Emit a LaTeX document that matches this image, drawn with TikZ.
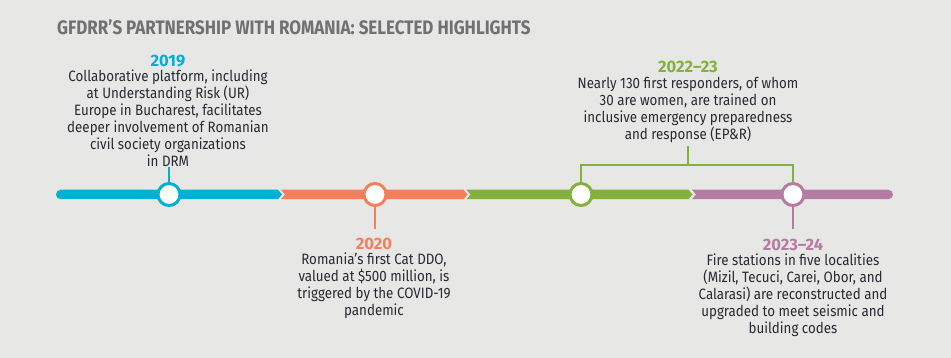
\documentclass[tikz,border=0pt]{standalone}
\usepackage{fontspec}
\setmainfont{Fira Sans}[FakeStretch=0.89]
\newfontfamily\titlefont{Fira Sans}[FakeStretch=0.87]
\newfontfamily\yearfont{Fira Sans}
\definecolor{bg}{HTML}{E7E7E5}
\definecolor{cblue}{HTML}{00B1D5}
\definecolor{corange}{HTML}{F47F5D}
\definecolor{cgreen}{HTML}{84B03D}
\definecolor{cpurple}{HTML}{B57CA3}
\definecolor{ctitle}{HTML}{6F7173}
\definecolor{ctext}{HTML}{2A2934}
\begin{document}
\begin{tikzpicture}[x=1pt,y=-1pt,
  yearlbl/.style={font=\yearfont\fontsize{16.5}{18}\selectfont\bfseries, inner sep=0pt},
  bodytxt/.style={font=\fontsize{15}{17}\selectfont, text=ctext, align=center, inner sep=0pt},
  dot/.style={circle, draw=#1, line width=3pt, fill=white, minimum size=22pt, inner sep=0pt},
  stem/.style={draw=#1, line width=1.3pt}]
\fill[bg] (0,0) rectangle (951,358);
\useasboundingbox (0,0) rectangle (951,358);
% title
\node[anchor=west, inner sep=0pt, text=ctitle, font=\titlefont\fontsize{19.5}{21}\selectfont\bfseries] (title) at (57,27) {GFDRR’S PARTNERSHIP WITH ROMANIA: SELECTED HIGHLIGHTS};
% bar segments
\fill[cblue] (60.75,189.75) -- (278,189.75) -- (282,194.5) -- (278,199.25) -- (60.75,199.25) -- cycle;
\fill[cblue] (60.75,194.5) circle[radius=4.75];
\fill[corange] (281,189.75) -- (463.5,189.75) -- (467.5,194.5) -- (463.5,199.25) -- (281,199.25) -- (285,194.5) -- cycle;
\fill[cgreen] (466.5,189.75) -- (688.5,189.75) -- (692.5,194.5) -- (688.5,199.25) -- (466.5,199.25) -- (470.5,194.5) -- cycle;
\fill[cpurple] (692,189.75) -- (888.25,189.75) -- (888.25,199.25) -- (692,199.25) -- (696,194.5) -- cycle;
\fill[cpurple] (888.25,194.5) circle[radius=4.75];
% dots
\node[dot=cblue] (d1) at (169,194.5) {};
\node[dot=corange] (d2) at (375,194.5) {};
\node[dot=cgreen] (d3) at (581,194.5) {};
\node[dot=cpurple] (d4) at (793,194.5) {};
% 2019
\coordinate (s1) at (169,167);
\draw[stem=cblue] (d1.north) -- (s1);
\node[yearlbl, text=cblue] (y1) at (168,61) {2019};
\node[bodytxt, anchor=north] (t1) at (168,70) {Collaborative platform, including\\at Understanding Risk (UR)\\Europe in Bucharest, facilitates\\deeper involvement of Romanian\\civil society organizations\\in DRM};
% 2020
\coordinate (s2) at (375,229);
\draw[stem=corange] (d2.south) -- (s2);
\node[yearlbl, text=corange] (y2) at (374,244) {2020};
\node[bodytxt, anchor=north] (t2) at (374,253) {Romania’s first Cat DDO,\\valued at \$500 million, is\\triggered by the COVID-19\\pandemic};
% 2022-23
\coordinate (s3) at (688,146);
\coordinate (b3) at (688,165);
\draw[stem=cgreen] (s3) -- (b3);
\draw[stem=cgreen] (d3.north) |- (b3) -| (d4.north);
\node[yearlbl, text=cgreen] (y3) at (688,67) {2022–23};
\node[bodytxt, anchor=north] (t3) at (688,77) {Nearly 130 first responders, of whom\\30 are women, are trained on\\inclusive emergency preparedness\\and response (EP\&R)};
% 2023-24
\coordinate (s4) at (793,229);
\draw[stem=cpurple] (d4.south) -- (s4);
\node[yearlbl, text=cpurple] (y4) at (793,245) {2023–24};
\node[bodytxt, anchor=north] (t4) at (793,253.5) {Fire stations in five localities\\(Mizil, Tecuci, Carei, Obor, and\\Calarasi) are reconstructed and\\upgraded to meet seismic and\\building codes};
\end{tikzpicture}
\end{document}
